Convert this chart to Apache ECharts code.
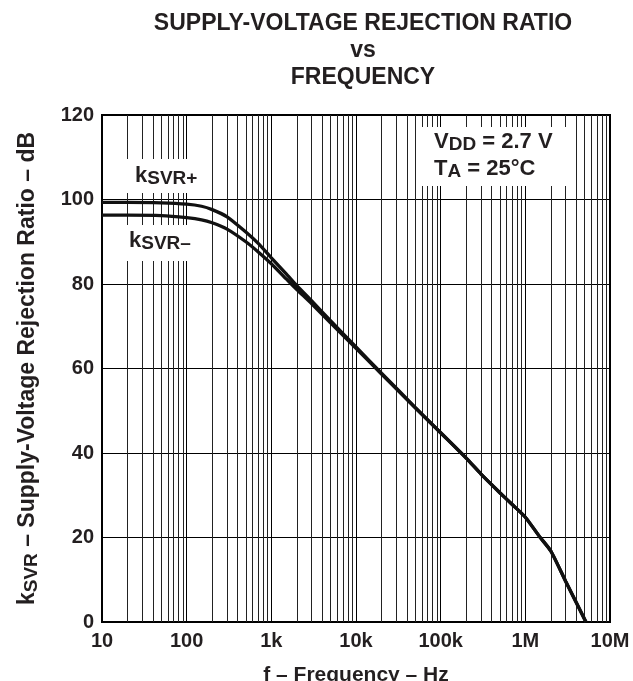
<!DOCTYPE html>
<html>
<head>
<meta charset="utf-8">
<script src="https://cdn.jsdelivr.net/npm/echarts@6/dist/echarts.min.js"></script>
<style>
html,body{margin:0;padding:0;background:#fff;}
#chart{width:633px;height:681px;}
</style>
</head>
<body>
<div id="chart"></div>
<script>
// ---- data ----
const freqPlus = [10, 20, 50, 100, 150, 200, 300, 500, 700, 1000, 1500, 2000, 3000, 5000, 10000, 20000, 50000, 100000, 200000, 300000, 500000, 700000, 1000000, 1500000, 2000000, 3000000, 5200000];
const kSvrPlus = [99.3, 99.3, 99.2, 98.9, 98.4, 97.6, 95.9, 92.3, 89.6, 86.2, 82.4, 79.6, 76.0, 71.3, 65.1, 58.9, 50.8, 44.8, 38.8, 35.0, 30.6, 27.8, 24.8, 20.0, 16.8, 9.6, 0];
const freqMinus = [10, 20, 50, 100, 150, 200, 300, 500, 700, 1000, 1500, 2000, 3000, 5000, 10000, 20000, 50000, 100000, 200000, 300000, 500000, 700000, 1000000, 1500000, 2000000, 3000000, 5200000];
const kSvrMinus = [96.3, 96.3, 96.2, 95.7, 95.2, 94.5, 93.0, 90.0, 87.6, 84.8, 81.2, 78.7, 75.3, 70.8, 64.8, 58.7, 50.7, 44.8, 38.8, 35.0, 30.6, 27.8, 24.8, 20.0, 16.8, 9.6, 0];

const xTickLabels = {10: '10', 100: '100', 1000: '1k', 10000: '10k', 100000: '100k', 1000000: '1M', 10000000: '10M'};
const decades = [10, 100, 1000, 10000, 100000, 1000000];
const minorMultipliers = [2, 3, 4, 5, 6, 7, 8, 9];

const minorGrid = [];
decades.forEach(d => minorMultipliers.forEach(m => minorGrid.push({xAxis: d * m})));

const FONT = 'Liberation Sans, Arial, Helvetica, sans-serif';
const TXT = '#231f20';

function pairs(xs, ys) { return xs.map((x, i) => [x, ys[i]]); }

const labelRich = {
  k: {fontFamily: FONT, fontSize: 22, fontWeight: 'bold', fill: TXT, lineHeight: 27},
  s: {fontFamily: FONT, fontSize: 19, fontWeight: 'bold', fill: TXT, lineHeight: 27, padding: [7, 0, 0, 0]}
};

const chart = echarts.init(document.getElementById('chart'));
chart.setOption({
  animation: false,
  backgroundColor: '#fff',
  title: {
    text: 'SUPPLY-VOLTAGE REJECTION RATIO\nvs\nFREQUENCY',
    left: 358, top: 5, textAlign: 'center',
    textStyle: {fontFamily: FONT, fontSize: 23, fontWeight: 'bold', color: TXT, lineHeight: 27}
  },
  grid: {left: 102, right: 23, top: 115, bottom: 59, show: true, borderColor: '#000', borderWidth: 2,
    backgroundColor: 'transparent', containLabel: false, outerBoundsMode: 'none'},
  xAxis: {
    type: 'log', logBase: 10, min: 10, max: 10000000,
    name: 'f – Frequency – Hz', nameLocation: 'middle', nameGap: 43,
    nameTextStyle: {fontFamily: FONT, fontSize: 21, fontWeight: 'bold', color: TXT},
    axisLine: {show: true, lineStyle: {color: '#000', width: 2}},
    axisTick: {show: false},
    axisLabel: {margin: 9, fontFamily: FONT, fontSize: 20, fontWeight: 'bold', color: TXT,
      formatter: v => xTickLabels[Math.round(v)] || ''},
    splitLine: {show: true, lineStyle: {color: '#000', width: 1}}
  },
  yAxis: {
    type: 'value', min: 0, max: 120, interval: 20,
    name: '{k|k}{s|SVR}{n| – Supply-Voltage Rejection Ratio – dB}',
    nameLocation: 'middle', nameGap: 62,
    nameTextStyle: {fontFamily: FONT, fontWeight: 'bold', color: TXT,
      rich: {
        k: {fontFamily: FONT, fontSize: 23, fontWeight: 'bold', color: TXT, lineHeight: 24},
        s: {fontFamily: FONT, fontSize: 19, fontWeight: 'bold', color: TXT, lineHeight: 24, padding: [8, 0, 0, 0]},
        n: {fontFamily: FONT, fontSize: 23, fontWeight: 'bold', color: TXT, lineHeight: 24}
      }},
    axisLine: {show: true, lineStyle: {color: '#000', width: 2}},
    axisTick: {show: false},
    axisLabel: {margin: 8, fontFamily: FONT, fontSize: 20, fontWeight: 'bold', color: TXT},
    splitLine: {show: true, lineStyle: {color: '#000', width: 1}}
  },
  graphic: [
    {type: 'rect', z: 50, shape: {x: 118, y: 159, width: 92, height: 34}, style: {fill: '#fff'}},
    {type: 'text', z: 51, x: 135, y: 162, style: {text: '{k|k}{s|SVR+}', verticalAlign: 'top', rich: labelRich}},
    {type: 'rect', z: 50, shape: {x: 118, y: 225, width: 92, height: 36}, style: {fill: '#fff'}},
    {type: 'text', z: 51, x: 129, y: 227, style: {text: '{k|k}{s|SVR–}', verticalAlign: 'top', rich: labelRich}},
    {type: 'rect', z: 50, shape: {x: 418, y: 127, width: 154, height: 59}, style: {fill: '#fff'}},
    {type: 'text', z: 51, x: 434, y: 128, style: {
      text: '{k|V}{s|DD}{k| = 2.7 V}\n{k|T}{s|A}{k| = 25°C}', verticalAlign: 'top', rich: labelRich}}
  ],
  series: [
    {
      type: 'line', name: 'kSVR+', data: pairs(freqPlus, kSvrPlus),
      showSymbol: false, smooth: 0.2, z: 60,
      lineStyle: {color: '#111', width: 3.3},
      markLine: {
        silent: true, symbol: 'none', label: {show: false},
        lineStyle: {color: '#222', width: 1, type: 'solid'},
        data: minorGrid
      }
    },
    {
      type: 'line', name: 'kSVR-', data: pairs(freqMinus, kSvrMinus),
      showSymbol: false, smooth: 0.2, z: 60,
      lineStyle: {color: '#111', width: 3.3}
    }
  ]
});
</script>
</body>
</html>
